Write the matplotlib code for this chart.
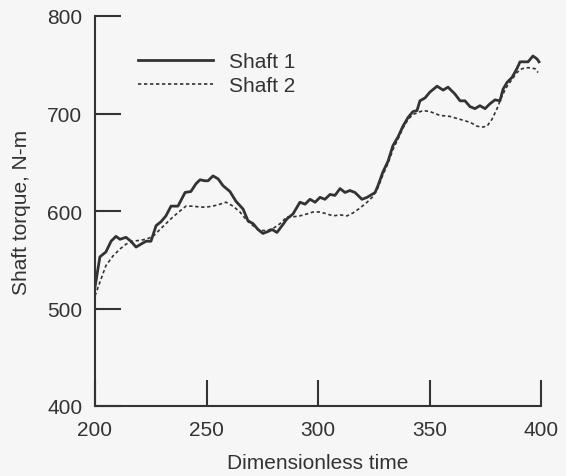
import matplotlib
matplotlib.use("Agg")
import matplotlib.pyplot as plt

# Shaft 1 (solid)
t1 = [200.0, 202.2, 204.9, 207.2, 209.4, 211.2, 213.9, 216.1, 218.4, 220.6,
      222.9, 225.1, 227.4, 229.6, 231.8, 234.1, 237.2, 240.4, 243.0, 245.3,
      247.1, 249.3, 250.7, 252.9, 255.2, 257.4, 260.5, 263.2, 266.4, 268.6,
      270.9, 273.1, 275.3, 277.6, 279.4, 281.6, 283.9, 286.1, 288.8, 291.9,
      294.2, 296.4, 298.7, 300.9, 303.1, 305.4, 307.6, 309.9, 312.1, 314.3,
      316.6, 319.7, 322.0, 324.2, 325.6, 326.9, 329.1, 331.4, 333.6, 335.9,
      338.1, 340.4, 342.6, 344.4, 345.7, 348.0, 350.2, 353.4, 356.1, 358.3,
      361.4, 363.7, 365.9, 368.2, 370.4, 372.6, 374.9, 377.1, 379.4, 381.6,
      383.0, 384.8, 387.0, 389.2, 390.6, 392.8, 394.2, 396.4, 398.2, 399.1]
shaft1 = [522, 553, 558, 569, 574, 571, 573, 569, 563, 566,
          569, 569, 585, 589, 595, 605, 605, 619, 620, 628,
          632, 631, 631, 636, 633, 626, 620, 610, 602, 590,
          587, 581, 577, 579, 581, 578, 585, 592, 597, 609,
          607, 612, 609, 614, 612, 617, 616, 623, 619, 621,
          619, 612, 614, 617, 619, 626, 640, 651, 667, 676,
          687, 696, 702, 703, 713, 716, 722, 728, 724, 727,
          720, 713, 713, 707, 705, 708, 705, 710, 714, 713,
          725, 732, 737, 746, 753, 753, 753, 759, 756, 753]

# Shaft 2 (dashed)
t2 = [200.0, 202.2, 204.9, 208.1, 211.2, 213.9, 217.0, 220.2, 222.9, 226.0,
      229.1, 231.8, 235.0, 238.1, 240.8, 243.9, 247.1, 249.8, 252.9, 256.1,
      258.7, 261.9, 265.0, 268.2, 270.9, 274.0, 277.1, 279.8, 283.0, 286.1,
      288.8, 291.9, 295.1, 297.8, 300.9, 304.0, 306.7, 309.9, 313.0, 315.7,
      318.8, 322.0, 324.7, 326.9, 329.1, 331.4, 333.6, 335.9, 338.1, 340.4,
      342.6, 347.1, 350.2, 354.7, 359.2, 363.7, 368.2, 371.3, 373.5, 375.8,
      378.0, 380.3, 382.5, 384.8, 387.0, 389.2, 391.5, 394.2, 397.3, 398.7]
shaft2 = [513, 527, 544, 554, 561, 566, 569, 570, 571, 574,
          581, 587, 594, 600, 605, 605, 604, 604, 605, 607,
          609, 605, 599, 590, 585, 580, 580, 582, 587, 594,
          594, 595, 597, 599, 599, 597, 595, 596, 595, 598,
          603, 609, 615, 624, 637, 649, 663, 674, 685, 694,
          699, 703, 702, 698, 697, 694, 691, 687, 686, 687,
          694, 705, 718, 728, 735, 742, 746, 747, 746, 742]

x_ticks = [200, 250, 300, 350, 400]
y_ticks = [400, 500, 600, 700, 800]

plt.rcParams['font.family'] = ['Liberation Sans', 'DejaVu Sans']
ink = "#333333"
bg = "#f6f6f6"

fig = plt.figure(figsize=(5.66, 4.77), dpi=100, facecolor=bg)
ax = fig.add_axes([95 / 566, 1 - 407 / 477, (541 - 95) / 566, (407 - 17) / 477])
ax.set_facecolor(bg)

ax.plot(t1, shaft1, color=ink, linewidth=2.0, label="Shaft 1")
ax.plot(t2, shaft2, color=ink, linewidth=1.2, linestyle=(0, (2.0, 1.6)), label="Shaft 2")

ax.set_xlim(200, 400)
ax.set_ylim(400, 800)
ax.set_xticks(x_ticks)
ax.set_yticks(y_ticks)

for side in ["top", "right"]:
    ax.spines[side].set_visible(False)
for side in ["left", "bottom"]:
    ax.spines[side].set_color(ink)
    ax.spines[side].set_linewidth(1.5)

ax.tick_params(direction="in", length=19, width=1.5, colors=ink, labelsize=15)
ax.tick_params(axis="x", pad=10)
ax.tick_params(axis="y", pad=9)

ax.set_xlabel("Dimensionless time", fontsize=15, color=ink, labelpad=10)
ax.set_ylabel("Shaft torque, N-m", fontsize=15, color=ink, labelpad=12)

ax.legend(loc="upper left", bbox_to_anchor=(138 / 566, 1 - 53 / 477),
          bbox_transform=fig.transFigure, frameon=False, fontsize=15,
          handlelength=3.6, handletextpad=0.75, labelspacing=0.25,
          borderpad=0, borderaxespad=0, labelcolor=ink)

fig.savefig("out.png", dpi=100, facecolor=bg)
